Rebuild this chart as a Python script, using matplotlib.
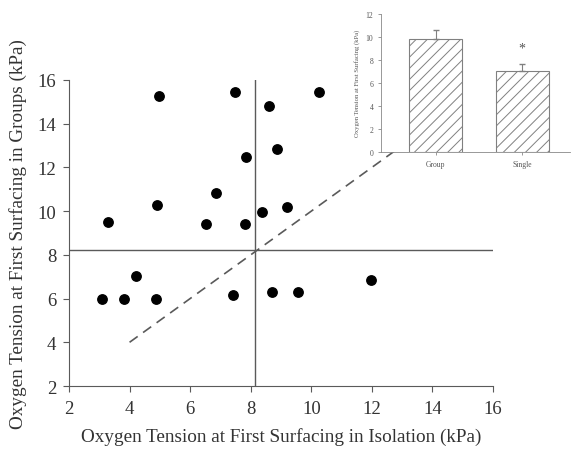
import matplotlib.pyplot as plt

plt.rcParams['font.family'] = ['Liberation Serif', 'DejaVu Serif']
plt.rcParams['hatch.color'] = '#9a9a9a'
plt.rcParams['hatch.linewidth'] = 0.7

# scatter data (kPa)
isolation = [4.98, 7.49, 8.61, 10.27, 8.86, 7.85, 6.84, 4.90, 3.28, 6.51, 7.80,
             8.36, 9.21, 4.21, 3.08, 3.83, 4.88, 7.43, 8.70, 9.55, 11.96]
groups = [15.28, 15.46, 14.79, 15.46, 12.86, 12.48, 10.83, 10.28, 9.50, 9.42, 9.40,
          9.96, 10.19, 7.02, 5.99, 5.99, 5.99, 6.16, 6.30, 6.30, 6.85]
mean_iso = 8.14
mean_grp = 8.22

# inset bar data
bar_labels = ['Group', 'Single']
bar_means = [9.8, 7.05]
bar_err = [0.8, 0.55]

gray = '#5a5a5a'

fig = plt.figure(figsize=(5.72, 4.52), dpi=100)
ax = fig.add_axes([0.1206, 0.1438, 0.7413, 0.677])
ax.scatter(isolation, groups, s=46, color='black', zorder=3)
ax.plot([2, 16], [mean_grp, mean_grp], color=gray, lw=1)
ax.plot([mean_iso, mean_iso], [2, 16], color=gray, lw=1)
ax.plot([4, 16], [4, 16], color=gray, lw=1.2, ls=(0, (6, 4)))
ax.set_xlim(2, 16)
ax.set_ylim(2, 16)
ax.set_xticks(range(2, 17, 2))
ax.set_yticks(range(2, 17, 2))
for s in ['top', 'right']:
    ax.spines[s].set_visible(False)
for s in ['left', 'bottom']:
    ax.spines[s].set_color(gray)
ax.tick_params(colors=gray, labelcolor='#333333', labelsize=13.5, length=4)
ax.tick_params(axis='x', pad=6)
ax.tick_params(axis='y', pad=5)
ax.set_xlabel('Oxygen Tension at First Surfacing in Isolation (kPa)', fontsize=13.8,
              color='#333333', labelpad=7)
ax.set_ylabel('Oxygen Tension at First Surfacing in Groups (kPa)', fontsize=13.8,
              color='#333333', labelpad=8)

# inset
ins = fig.add_axes([0.666, 0.6615, 0.3305, 0.306])
ins.bar([0, 1], bar_means, width=0.61, color='white', edgecolor='#808080',
        hatch='///', lw=0.8)
ins.errorbar([0, 1], bar_means, yerr=[[0, 0], bar_err], fmt='none',
             ecolor='#808080', elinewidth=0.8, capsize=2)
ins.text(1, 9.0, '*', ha='center', va='center', fontsize=10, color='#555555')
ins.set_xlim(-0.63, 1.55)
ins.set_ylim(0, 12)
ins.set_yticks(range(0, 13, 2))
ins.set_xticks([0, 1])
ins.set_xticklabels(bar_labels)
for s in ['top', 'right']:
    ins.spines[s].set_visible(False)
for s in ['left', 'bottom']:
    ins.spines[s].set_color('#888888')
    ins.spines[s].set_linewidth(0.6)
ins.tick_params(colors='#888888', labelcolor='#555555', labelsize=5.5, length=2, width=0.6)
ins.tick_params(axis='x', pad=4)
ins.set_ylabel('Oxygen Tension at First Surfacing (kPa)', fontsize=4.8, color='#555555', labelpad=4)

fig.savefig('out.png', dpi=100)
